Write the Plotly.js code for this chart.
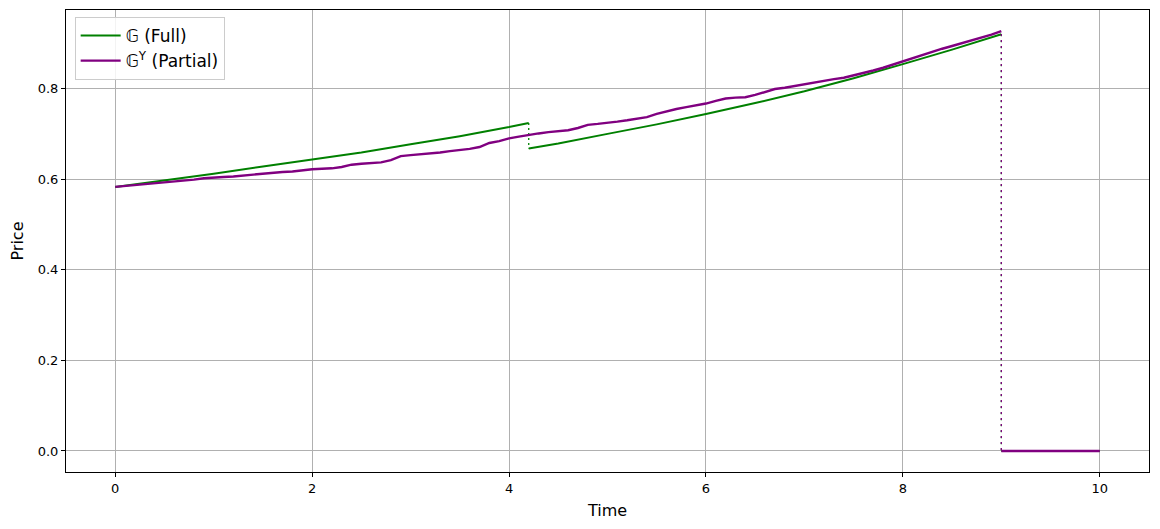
<!DOCTYPE html>
<html>
<head>
<meta charset="utf-8">
<script src="https://cdn.plot.ly/plotly-3.0.1.min.js"></script>
<style>html,body{margin:0;padding:0;background:#fff;}#chart{width:1160px;height:529px;}</style>
</head>
<body>
<div id="chart"></div>
<script>
// Full-information price, segment before the jump
const fullX1 = [0, 0.5, 1, 1.5, 2, 2.5, 3, 3.5, 4, 4.2];
const fullY1 = [0.583, 0.597, 0.612, 0.628, 0.643, 0.659, 0.677, 0.695, 0.715, 0.724];
// Full-information price, segment after the jump
const fullX2 = [4.2, 4.5, 5, 5.5, 6, 6.5, 7, 7.5, 8, 8.5, 9];
const fullY2 = [0.668, 0.679, 0.700, 0.721, 0.744, 0.768, 0.794, 0.823, 0.854, 0.886, 0.920];
// After default
const zeroX = [9, 10];
const zeroY = [0, 0];
// Partial-information price
const partX = [0,0.1,0.2,0.3,0.4,0.5,0.6,0.7,0.8,0.9,1.0,1.1,1.2,1.3,1.4,1.5,1.6,1.7,1.8,1.9,
  2.0,2.1,2.2,2.3,2.4,2.5,2.6,2.7,2.8,2.9,3.0,3.1,3.2,3.3,3.4,3.5,3.6,3.7,3.8,3.9,
  4.0,4.1,4.2,4.3,4.4,4.5,4.6,4.7,4.8,4.9,5.0,5.1,5.2,5.3,5.4,5.5,5.6,5.7,5.8,5.9,
  6.0,6.1,6.2,6.3,6.4,6.5,6.6,6.7,6.8,6.9,7.0,7.1,7.2,7.3,7.4,7.5,7.6,7.7,7.8,7.9,
  8.0,8.1,8.2,8.3,8.4,8.5,8.6,8.7,8.8,8.9,9.0];
const partY = [0.583,0.585,0.586,0.588,0.590,0.592,0.595,0.596,0.599,0.602,
  0.604,0.605,0.606,0.608,0.610,0.613,0.615,0.616,0.617,0.620,
  0.622,0.623,0.624,0.627,0.632,0.634,0.635,0.637,0.642,0.651,
  0.653,0.655,0.656,0.659,0.662,0.664,0.667,0.671,0.680,0.684,
  0.690,0.694,0.698,0.701,0.704,0.706,0.708,0.713,0.720,0.722,
  0.724,0.727,0.730,0.733,0.737,0.744,0.750,0.755,0.759,0.763,
  0.767,0.773,0.778,0.780,0.781,0.786,0.792,0.799,0.802,0.806,
  0.810,0.814,0.817,0.821,0.824,0.829,0.835,0.840,0.846,0.853,
  0.861,0.867,0.874,0.881,0.888,0.894,0.900,0.906,0.912,0.919,0.927];
// Jump connectors
const jumpFullX = [4.2, 4.2];
const jumpFullY = [0.724, 0.668];
const defFullX = [9, 9];
const defFullY = [0.920, 0];
const defPartX = [9, 9];
const defPartY = [0.927, 0];

const GREEN = '#008000', PURPLE = '#800080';
const traces = [
  {x: fullX1, y: fullY1, mode: 'lines', line: {color: GREEN, width: 2}, name: '𝔾 (Full)', legendgroup: 'f'},
  {x: fullX2, y: fullY2, mode: 'lines', line: {color: GREEN, width: 2}, showlegend: false, legendgroup: 'f'},
  {x: jumpFullX, y: jumpFullY, mode: 'lines', line: {color: GREEN, width: 1.3, dash: '2px,3px'}, showlegend: false},
  {x: defFullX, y: defFullY, mode: 'lines', line: {color: GREEN, width: 1.3, dash: '2px,4px'}, showlegend: false},
  {x: zeroX, y: zeroY, mode: 'lines', line: {color: GREEN, width: 2}, showlegend: false},
  {x: partX, y: partY, mode: 'lines', line: {color: PURPLE, width: 2.4}, name: '𝔾<sup>Y</sup> (Partial)', legendgroup: 'p'},
  {x: defPartX, y: defPartY, mode: 'lines', line: {color: PURPLE, width: 1.3, dash: '0px,3px,2px,1px'}, showlegend: false},
  {x: zeroX, y: zeroY, mode: 'lines', line: {color: PURPLE, width: 2.4}, showlegend: false}
];

const axisCommon = {
  showline: true, mirror: true, linecolor: '#000', linewidth: 1,
  showgrid: true, gridcolor: '#b0b0b0', gridwidth: 1,
  zeroline: false, ticks: 'outside', ticklen: 4, tickcolor: '#000',
  tickfont: {family: 'DejaVu Sans', size: 13, color: '#000'}
};

const layout = {
  width: 1160, height: 529,
  margin: {l: 66, r: 11, t: 10, b: 57},
  paper_bgcolor: '#fff', plot_bgcolor: '#fff',
  font: {family: 'DejaVu Sans', color: '#000'},
  xaxis: Object.assign({}, axisCommon, {
    range: [-0.5, 10.5], tickmode: 'array', tickvals: [0, 2, 4, 6, 8, 10],
    title: {text: 'Time', font: {size: 16, family: 'DejaVu Sans'}, standoff: 10}
  }),
  yaxis: Object.assign({}, axisCommon, {
    range: [-0.0464, 0.9735], tickmode: 'array', tickvals: [0, 0.2, 0.4, 0.6, 0.8],
    tickformat: '.1f',
    title: {text: 'Price', font: {size: 16, family: 'DejaVu Sans'}, standoff: 10}
  }),
  legend: {
    x: 0.008, y: 0.985, xanchor: 'left', yanchor: 'top',
    bgcolor: 'rgba(255,255,255,0.85)', bordercolor: '#cccccc', borderwidth: 1,
    font: {size: 17, family: 'DejaVu Sans'}, itemwidth: 40, tracegroupgap: 0
  },
  showlegend: true
};

Plotly.newPlot('chart', traces, layout, {displayModeBar: false, staticPlot: true});
</script>
</body>
</html>
